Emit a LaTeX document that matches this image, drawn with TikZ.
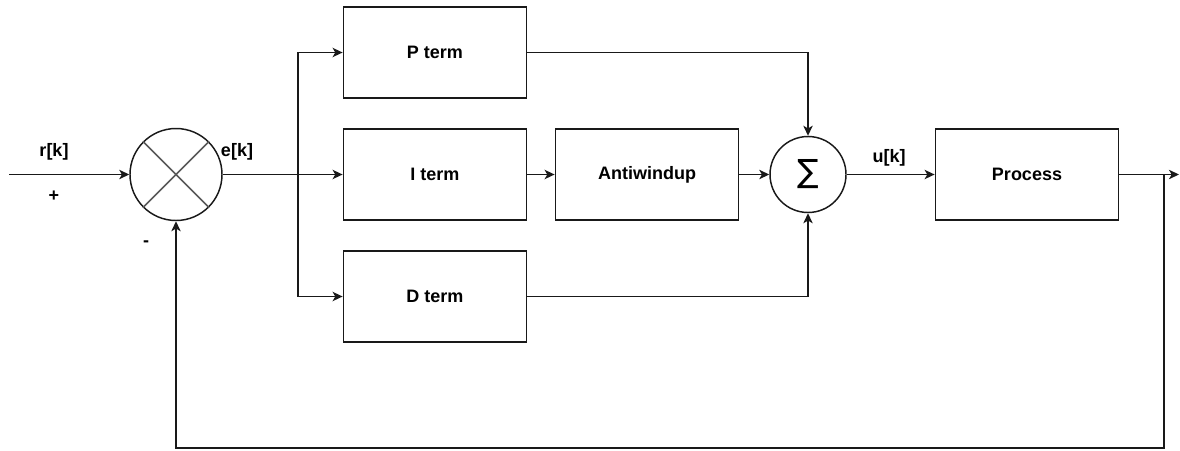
\documentclass[tikz,border=0pt]{standalone}
\usepackage{fontspec}
\setmainfont{Liberation Sans}
\newfontfamily\symfont{DejaVu Sans}
\usetikzlibrary{arrows.meta}
\begin{document}
\begin{tikzpicture}[
  x=0.75pt, y=-0.75pt,
  font=\fontsize{13.5pt}{16pt}\selectfont\bfseries,
  wire/.style={line width=1.1pt, draw=black!90},
  arr/.style={wire, -{Stealth[length=7.5pt,width=7pt,inset=2pt]}},
  block/.style={draw=black!90, line width=1.1pt, minimum width=137.5pt,
                minimum height=68pt, inner sep=0pt},
  junction/.style={circle, draw=black!90, line width=1.1pt, inner sep=0pt}
]
\useasboundingbox (0,0) rectangle (1180,450);

% controller blocks
\node[block] (P)    at (435,52.5)  {P term};
\node[block] (I)    at (435,174.5) {I term};
\node[block] (D)    at (435,296.5) {D term};
\node[block] (AW)   at (647,174.5) {Antiwindup};
\node[block] (proc) at (1027,174.5) {Process};

% error junction and summing point
\node[junction, minimum size=69pt] (err) at (176,174.5) {};
\draw[line width=1.1pt, draw=black!65] (err.north west) -- (err.south east)
                                        (err.north east) -- (err.south west);
\node[junction, minimum size=57pt] (sum) at (808,174.5)
     {\symfont\mdseries\fontsize{24pt}{24pt}\selectfont ∑};

% free ends and bends
\coordinate (in)    at (9,174.5);
\coordinate (split) at (298,174.5);
\coordinate (out)   at (1179,174.5);
\coordinate (tap)   at (1164,174.5);
\coordinate (fbL)   at (176,448);

% signal flow
\draw[arr] (in) -- (err);
\draw[wire] (err) -- (split);
\draw[arr] (split) -- (I);
\draw[arr] (split) |- (P);
\draw[arr] (split) |- (D);
\draw[arr] (I) -- (AW);
\draw[arr] (AW) -- (sum);
\draw[arr] (P) -| (sum);
\draw[arr] (D) -| (sum);
\draw[arr] (sum) -- (proc);
\draw[arr] (proc) -- (out);
\draw[arr] (tap) |- (fbL) -- (err);

% signal labels
\node (lr)    at (54,152)  {r[k]};
\node (lplus) at (54,196)  {+};
\node (le)    at (237,152) {e[k]};
\node (lminus) at (146,244) {-};
\node (lu)    at (889,158) {u[k]};
\end{tikzpicture}
\end{document}
